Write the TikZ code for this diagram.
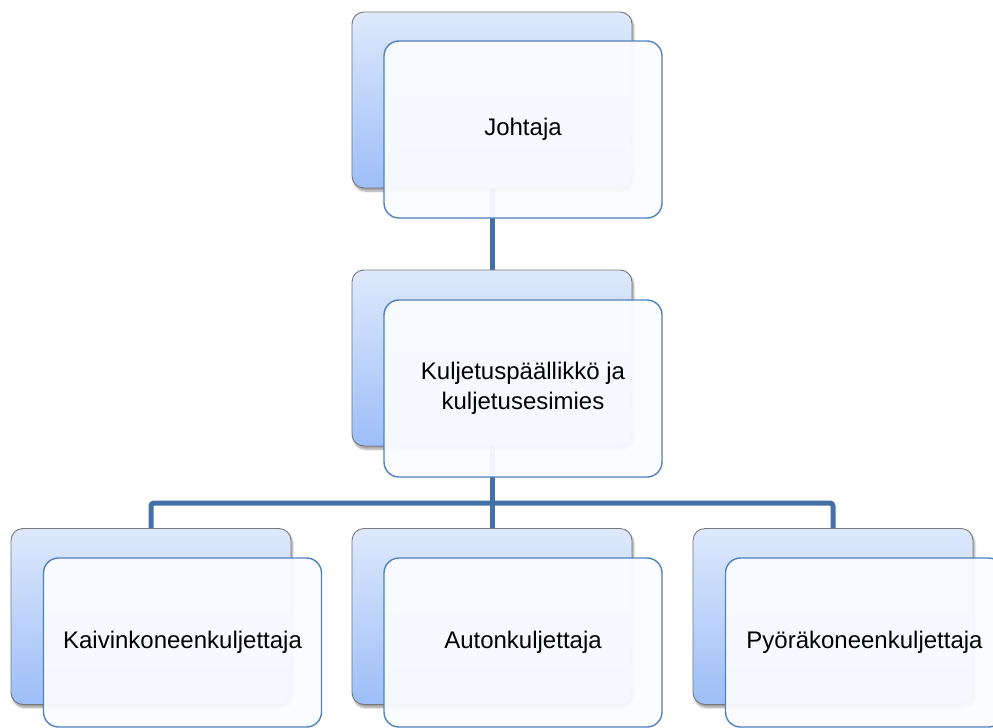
\documentclass[tikz,border=0pt]{standalone}
\usepackage{fontspec}
\setmainfont{Liberation Sans}
\usetikzlibrary{shadows.blur}
\definecolor{conncol}{RGB}{68,112,168}
\definecolor{backtop}{RGB}{222,233,252}
\definecolor{backbot}{RGB}{157,190,248}
\definecolor{frontedge}{RGB}{79,129,189}
\definecolor{frontfill}{RGB}{250,252,255}
\pgfdeclarelayer{bg}
\pgfsetlayers{bg,main}
\begin{document}
\begin{tikzpicture}[x=1pt,y=-1pt,
  backbox/.style={rectangle, rounded corners=12pt, draw={rgb,255:red,120;green,120;blue,120}, line width=0.9pt,
    top color=backtop, bottom color=backbot, minimum width=280pt, minimum height=176pt, inner sep=0pt,
    blur shadow={shadow xshift=1.5pt, shadow yshift=-3pt, shadow blur steps=6, shadow opacity=40}},
  frontbox/.style={rectangle, rounded corners=15pt, draw=frontedge, line width=1.4pt,
    fill=frontfill, fill opacity=0.95, text opacity=1, minimum width=278pt, inner sep=0pt,
    align=center, font=\fontsize{24}{30}\selectfont},
  conn/.style={draw=conncol, line width=5pt}]
\useasboundingbox (0,0) rectangle (993,728);
\clip (0,0) rectangle (993,728);
% back and front boxes
\node[backbox] (b1) at (492,100) {};
\node[frontbox, minimum height=177pt] (f1) at (523,129.5) {Johtaja};
\node[backbox] (b2) at (492,358) {};
\node[frontbox, minimum height=177pt] (f2) at (523,388.5) {Kuljetuspäällikkö ja\\kuljetusesimies};
\node[backbox] (b3) at (151,616.5) {};
\node[frontbox, minimum height=169pt] (f3) at (182.5,642.5) {Kaivinkoneenkuljettaja};
\node[backbox] (b4) at (492,616.5) {};
\node[frontbox, minimum height=169pt] (f4) at (523,642.5) {Autonkuljettaja};
\node[backbox] (b5) at (833,616.5) {};
\node[frontbox, minimum height=169pt] (f5) at (864.5,642.5) {Pyöräkoneenkuljettaja};
% connectors
\coordinate (bus) at (492,503);
\begin{pgfonlayer}{bg}
\draw[conn] (b1.center) -- (b2.center);
\draw[conn] (b2.center) -- (b4.center);
\draw[conn, rounded corners=3pt] (b3.north) |- (bus) -| (b5.north);
\end{pgfonlayer}
\end{tikzpicture}
\end{document}
